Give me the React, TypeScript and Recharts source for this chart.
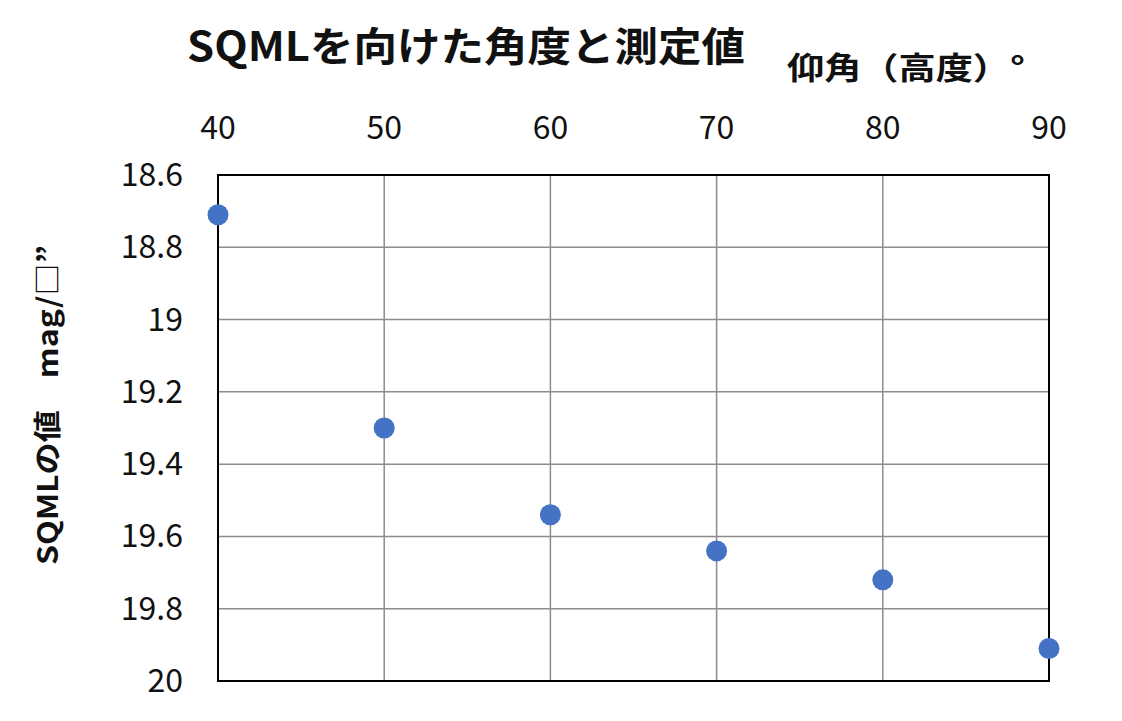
import React from "react";
import {
  ScatterChart,
  Scatter,
  XAxis,
  YAxis,
  CartesianGrid,
  ReferenceArea,
} from "recharts";

const angles = [40, 50, 60, 70, 80, 90];
const sqmValues = [18.71, 19.3, 19.54, 19.64, 19.72, 19.91];
const xTicks = [40, 50, 60, 70, 80, 90];
const yTicks = [18.6, 18.8, 19, 19.2, 19.4, 19.6, 19.8, 20];

const titleText = "SQMLを向けた角度と測定値";
const xLabelText = "仰角（高度）°";
const yLabelText = "SQMLの値　mag/□”";

const data = angles.map((a, i) => ({ x: a, y: sqmValues[i] }));

const FONT = '"Noto Sans CJK JP", "Noto Sans", sans-serif';

const XTick = (props: any) => {
  const { x, y, payload } = props;
  return (
    <text x={x} y={y - 36} textAnchor="middle" fontSize={32} fontFamily={FONT} fill="#111">
      {String(payload.value)}
    </text>
  );
};

const YTick = (props: any) => {
  const { x, y, payload } = props;
  return (
    <text x={x - 35} y={y} dy={11} textAnchor="end" fontSize={32} fontFamily={FONT} fill="#111">
      {String(payload.value)}
    </text>
  );
};

const Dot = (props: any) => {
  const { cx, cy } = props;
  return <circle cx={cx} cy={cy} r={10.5} fill="#4472C4" />;
};

export default function App() {
  const W = 1106;
  const H = 705;
  return (
    <div style={{ position: "relative", width: W, height: H, background: "#fff" }}>
      <ScatterChart width={W} height={H} margin={{ top: 100, right: 65, bottom: 32, left: 0 }}>
        <CartesianGrid stroke="#8c8c8c" strokeWidth={1.5} />
        <XAxis
          type="number"
          dataKey="x"
          orientation="top"
          domain={[40, 90]}
          ticks={xTicks}
          interval={0}
          height={67}
          axisLine={false}
          tickLine={false}
          tickSize={0}
          tickMargin={0}
          tick={<XTick />}
        />
        <YAxis
          type="number"
          dataKey="y"
          domain={[18.6, 20]}
          reversed
          ticks={yTicks}
          interval={0}
          width={210}
          axisLine={false}
          tickLine={false}
          tickSize={0}
          tickMargin={0}
          allowDataOverflow
          tick={<YTick />}
        />
        <ReferenceArea
          x1={40}
          x2={90}
          y1={18.6}
          y2={20}
          fill="none"
          fillOpacity={0}
          stroke="#000"
          strokeWidth={2}
          ifOverflow="visible"
        />
        <Scatter data={data} isAnimationActive={false} shape={<Dot />} />
      </ScatterChart>
      <svg
        width={W}
        height={H}
        style={{ position: "absolute", left: 0, top: 0, pointerEvents: "none" }}
      >
        <text
          x={458}
          y={53}
          textAnchor="middle"
          fontSize={40}
          fontWeight="bold"
          fontFamily={FONT}
          fill="#111"
          textLength={558}
          lengthAdjust="spacingAndGlyphs"
        >
          {titleText}
        </text>
        <text
          x={779}
          y={71}
          textAnchor="start"
          fontSize={31}
          fontWeight="bold"
          fontFamily={FONT}
          fill="#111"
          textLength={238}
          lengthAdjust="spacingAndGlyphs"
        >
          {xLabelText}
        </text>
        <text
          transform="translate(50 397) rotate(-90)"
          x={0}
          y={0}
          textAnchor="middle"
          fontSize={28}
          fontWeight="bold"
          fontFamily={FONT}
          fill="#111"
          textLength={320}
          lengthAdjust="spacingAndGlyphs"
        >
          {yLabelText}
        </text>
      </svg>
    </div>
  );
}
